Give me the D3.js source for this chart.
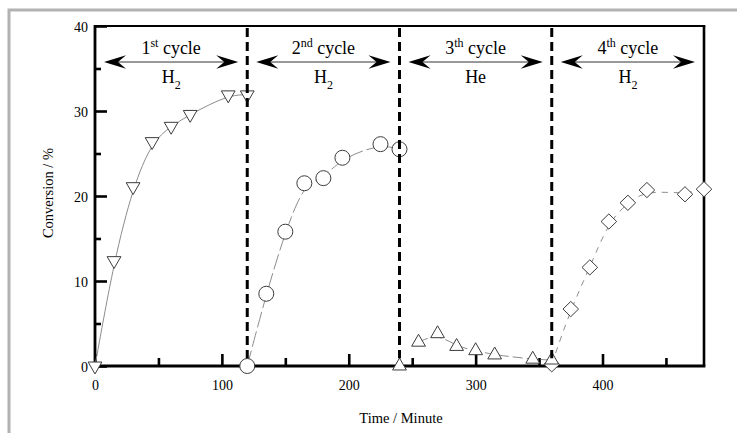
<!DOCTYPE html>
<html>
<head>
<meta charset="utf-8">
<script src="https://cdn.jsdelivr.net/npm/d3@7"></script>
<style>
  html, body { margin: 0; padding: 0; background: #fff; }
  svg { display: block; }
  text { font-family: "Liberation Serif", "Times New Roman", serif; fill: #000; }
</style>
</head>
<body>
<svg id="chart" width="737" height="433"></svg>
<script>
// ---------------- data ----------------
const xTicks = [0, 100, 200, 300, 400];
const xMinorTicks = [50, 150, 250, 350, 450];
const yTicks = [0, 10, 20, 30, 40];
const yMinorTicks = [5, 15, 25, 35];

const cycleStart = [0, 120, 240, 360];
const cycleEnd = [120, 240, 360, 480];
const cycleNum = ["1", "2", "3", "4"];
const cycleSup = ["st", "nd", "th", "th"];
const cycleGas = ["H", "H", "He", "H"];
const cycleGasSub = ["2", "2", "", "2"];
const cycleBoundaries = [120, 240, 360];

// series 1: 1st cycle, H2 (down triangles)
const s1Time = [0, 15, 30, 45, 60, 75, 105, 120];
const s1Conv = [0, 12.4, 21.1, 26.4, 28.2, 29.6, 31.9, 31.9];
// series 2: 2nd cycle, H2 (circles)
const s2Time = [120, 135, 150, 165, 180, 195, 225, 240];
const s2Conv = [0, 8.5, 15.8, 21.5, 22.1, 24.5, 26.1, 25.5];
// series 3: 3rd cycle, He (up triangles)
const s3Time = [240, 255, 270, 285, 300, 315, 345, 360];
const s3Conv = [0, 2.8, 3.8, 2.3, 1.8, 1.3, 0.8, 0.7];
// series 4: 4th cycle, H2 (diamonds)
const s4Time = [360, 375, 390, 405, 420, 435, 465, 480];
const s4Conv = [0.2, 6.7, 11.6, 17.0, 19.2, 20.7, 20.2, 20.8];

// ---------------- layout ----------------
const svg = d3.select("#chart");
const x = d3.scaleLinear().domain([0, 480]).range([95, 704]);
const y = d3.scaleLinear().domain([0, 40]).range([366, 26]);

// outer gray frame
svg.append("path")
  .attr("d", "M9,433 V10 H737")
  .attr("fill", "none").attr("stroke", "#b2b2b2").attr("stroke-width", 3);

// ---------------- axes ----------------
const gx = svg.append("g").attr("transform", `translate(0,${y(0)})`)
  .call(d3.axisBottom(x).tickValues(xTicks).tickSize(-12).tickPadding(14).tickFormat(d3.format("d")));
const gxm = svg.append("g").attr("transform", `translate(0,${y(0)})`)
  .call(d3.axisBottom(x).tickValues(xMinorTicks).tickSize(-8).tickFormat(""));
const gy = svg.append("g").attr("transform", `translate(${x(0)},0)`)
  .call(d3.axisLeft(y).tickValues(yTicks).tickSize(-12).tickPadding(7).tickFormat(d3.format("d")));
const gym = svg.append("g").attr("transform", `translate(${x(0)},0)`)
  .call(d3.axisLeft(y).tickValues(yMinorTicks).tickSize(-6).tickFormat(""));

[gx, gxm, gy, gym].forEach(g => {
  g.select(".domain").remove();
  g.selectAll(".tick line").attr("stroke", "#000").attr("stroke-width", 2.6);
  g.selectAll(".tick text").style("font-size", "14px").attr("fill", "#000");
});
gy.selectAll(".tick text").attr("dy", "0.4em");

// left and bottom axis lines
svg.append("line").attr("x1", x(0)).attr("x2", x(0)).attr("y1", y(40) - 1).attr("y2", y(0) + 1.5)
  .attr("stroke", "#000").attr("stroke-width", 2.8);
svg.append("line").attr("x1", x(0) - 1.4).attr("x2", x(480) + 1.4).attr("y1", y(0)).attr("y2", y(0))
  .attr("stroke", "#000").attr("stroke-width", 2.8);
// top and right frame
svg.append("line").attr("x1", x(0)).attr("x2", x(480) + 1.3).attr("y1", y(40)).attr("y2", y(40))
  .attr("stroke", "#000").attr("stroke-width", 2.2);
svg.append("line").attr("x1", x(480)).attr("x2", x(480)).attr("y1", y(40)).attr("y2", y(0))
  .attr("stroke", "#000").attr("stroke-width", 2.6);

// axis titles
svg.append("text").attr("x", 401).attr("y", 423).attr("text-anchor", "middle")
  .style("font-size", "14.5px").text("Time / Minute");
svg.append("text").attr("transform", `translate(53,${(y(0) + y(40)) / 2 - 3}) rotate(-90)`)
  .attr("text-anchor", "middle").style("font-size", "14.5px").text("Conversion / %");

// ---------------- series ----------------
const lineGen = d3.line().x(d => x(d[0])).y(d => y(d[1])).curve(d3.curveBasis);
const zip = (t, v) => t.map((d, i) => [d, v[i]]);

const series = [
  { pts: zip(s1Time, s1Conv), lineFrom: 0, dash: null, sym: "down" },
  { pts: zip(s2Time, s2Conv), lineFrom: 0, dash: "16,4", sym: "circle" },
  { pts: zip(s4Time, s4Conv), lineFrom: 0, dash: "6,6", sym: "diamond" },
  { pts: zip(s3Time, s3Conv), lineFrom: 1, dash: "10,4", sym: "up" }
];

const triSize = 82;
const symPath = {
  down: d3.symbol().type(d3.symbolTriangle).size(triSize)(),
  up: d3.symbol().type(d3.symbolTriangle).size(triSize)(),
  circle: d3.symbol().type(d3.symbolCircle).size(Math.PI * 7.5 * 7.5)(),
  diamond: "M0,-7.6L7.8,0L0,7.6L-7.8,0Z"
};

series.forEach(s => {
  svg.append("path")
    .attr("d", lineGen(s.pts.slice(s.lineFrom)))
    .attr("fill", "none").attr("stroke", "#8c8c8c").attr("stroke-width", 1)
    .attr("stroke-dasharray", s.dash);
});
series.forEach(s => {
  svg.append("g").selectAll("path").data(s.pts).join("path")
    .attr("d", symPath[s.sym])
    .attr("transform", d => `translate(${x(d[0])},${y(d[1])})` + (s.sym === "down" ? " rotate(180)" : ""))
    .attr("fill", "#fff").attr("stroke", "#3c3c3c").attr("stroke-width", 1);
});

// dashed cycle boundaries
svg.append("g").selectAll("line").data(cycleBoundaries).join("line")
  .attr("x1", d => x(d)).attr("x2", d => x(d))
  .attr("y1", y(40) + 2).attr("y2", y(0.9))
  .attr("stroke", "#000").attr("stroke-width", 3).attr("stroke-dasharray", "9,5");

// ---------------- cycle annotations ----------------
const arrowY = 62;
const head = "M0,0 L-22,-6.8 L-14,0 L-22,6.8 Z";
cycleStart.forEach((st, i) => {
  const x1 = x(st) + 9, x2 = x(cycleEnd[i]) - 9;
  const cx = (x1 + x2) / 2;
  const g = svg.append("g");
  g.append("line").attr("x1", x1 + 10).attr("x2", x2 - 10).attr("y1", arrowY).attr("y2", arrowY)
    .attr("stroke", "#333").attr("stroke-width", 1);
  g.append("path").attr("d", head).attr("transform", `translate(${x2},${arrowY})`).attr("fill", "#000");
  g.append("path").attr("d", head).attr("transform", `translate(${x1},${arrowY}) rotate(180)`).attr("fill", "#000");

  const t1 = g.append("text").attr("x", cx).attr("y", 54).attr("text-anchor", "middle").style("font-size", "18px");
  t1.append("tspan").text(cycleNum[i]);
  t1.append("tspan").attr("dy", -7).style("font-size", "12px").text(cycleSup[i]);
  t1.append("tspan").attr("dy", 7).text("\u00a0cycle");

  const t2 = g.append("text").attr("x", cx).attr("y", 83).attr("text-anchor", "middle").style("font-size", "18px");
  t2.append("tspan").text(cycleGas[i]);
  if (cycleGasSub[i]) t2.append("tspan").attr("dy", 6).style("font-size", "12px").text(cycleGasSub[i]);
});
</script>
</body>
</html>
